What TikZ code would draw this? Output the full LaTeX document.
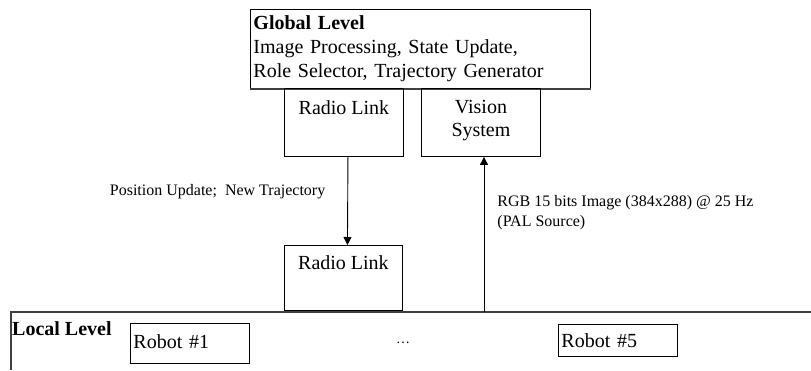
\documentclass[tikz,border=0pt]{standalone}
\usepackage{fontspec}
\setmainfont{Liberation Serif}
\usetikzlibrary{arrows.meta,positioning}
\tikzset{
 blk/.style={draw,line width=0.9pt,minimum width=119pt,inner sep=0pt},
 lbl/.style={font=\fontsize{20}{23}\selectfont,align=center,inner sep=2pt},
 note/.style={font=\fontsize{16}{20}\selectfont,align=left,inner sep=2pt},
 arr/.style={line width=0.9pt,-{Triangle[width=8pt,length=8pt]}}
}
\begin{document}
\begin{tikzpicture}[x=1pt,y=-1pt]
 \useasboundingbox (0,0) rectangle (811,370);
 % global level
 \node[blk,anchor=north west,minimum width=340pt,minimum height=79pt,text width=334pt,align=left,inner sep=3pt,font=\fontsize{20}{24}\selectfont] (global) at (250,9) {\textbf{Global Level}\\Image Processing, State Update,\\Role Selector, Trajectory Generator};
 \draw[line width=1.4pt,black!75] (global.south west) -- (global.south east);
 \node[blk,anchor=north west,minimum height=68pt,label={[lbl,anchor=north,yshift=-10pt]north:Radio Link}] (rlinkA) at (284,88) {};
 \node[blk,anchor=north west,minimum height=68pt,label={[lbl,anchor=north,yshift=-10pt]north:Vision\\System}] (vision) at (421,88) {};
 % local level
 \node[blk,anchor=north west,minimum width=118pt,minimum height=65pt,label={[lbl,anchor=north,yshift=-8pt]north:Radio Link}] (rlinkB) at (284,245) {};
 \draw[line width=1.4pt,black!75] (11,370) |- (811,312) coordinate (lright);
 \coordinate (lleft) at (11,312);
 \node[lbl,anchor=west,font=\fontsize{20}{23}\selectfont\bfseries,inner sep=1pt] (local) at ([yshift=-17pt]lleft) {Local Level};
 \node[blk,anchor=north west,minimum height=40pt,text width=113pt,align=left,inner sep=3pt,font=\fontsize{20}{23}\selectfont] (robotA) at (130,323) {Robot \#1\vphantom{y}};
 \node[blk,anchor=north west,minimum height=32pt,text width=113pt,align=left,inner sep=3pt,font=\fontsize{20}{23}\selectfont] (robotE) at (558,324) {Robot \#5};
 \node[font=\fontsize{14}{16}\selectfont] (dots) at (403,343) {\dots};
 % links
 \draw[arr] ([xshift=4pt]rlinkA.south) -- node[note,anchor=east,pos=0.4,xshift=-20pt] (posupd) {Position Update;~ New Trajectory} ([xshift=4pt]rlinkB.north);
 \draw[arr] (484,312) coordinate (camera) -- node[note,anchor=west,pos=0.64,xshift=11pt] (rgb) {RGB 15 bits Image (384x288) @ 25 Hz\\(PAL Source)} (vision.south -| camera);
\end{tikzpicture}
\end{document}
